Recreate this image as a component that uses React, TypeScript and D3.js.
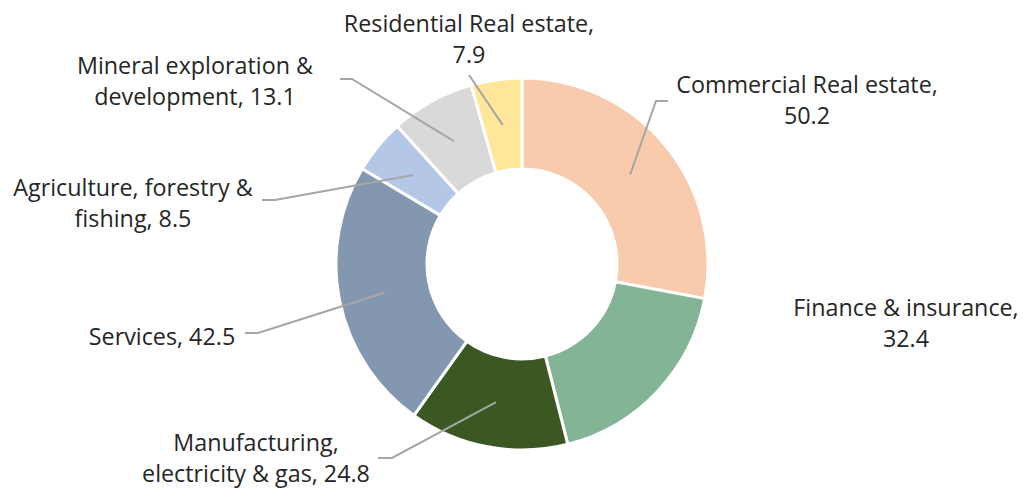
import React, { useRef, useEffect } from "react";
import * as d3 from "d3";

// sector lending values, clockwise from 12 o'clock
const sectors = [
  "Commercial Real estate",
  "Finance & insurance",
  "Manufacturing, electricity & gas",
  "Services",
  "Agriculture, forestry & fishing",
  "Mineral exploration & development",
  "Residential Real estate",
];
const values = [50.2, 32.4, 24.8, 42.5, 8.5, 13.1, 7.9];
const colors = ["#F8CBAD", "#84B496", "#3B5823", "#8497B0", "#B4C7E7", "#D9D9D9", "#FFE699"];

// label text split into lines as in the original
const labelLines = [
  ["Commercial Real estate,", "50.2"],
  ["Finance & insurance,", "32.4"],
  ["Manufacturing,", "electricity & gas, 24.8"],
  ["Services, 42.5"],
  ["Agriculture, forestry &", "fishing, 8.5"],
  ["Mineral exploration &", "development, 13.1"],
  ["Residential Real estate,", "7.9"],
];

// hand placed label layout (text centre, first baseline, leader bend points)
const labelLayout = [
  { x: 807, y: 93, leader: [[656, 101], [668, 101]] },
  { x: 906, y: 316, leader: [] },
  { x: 256, y: 451, leader: [[392, 458], [378, 458]] },
  { x: 162, y: 345, leader: [[258, 333], [245, 333]] },
  { x: 133, y: 196, leader: [[275, 200], [262, 200]] },
  { x: 195, y: 74, leader: [[352, 79], [340, 79]] },
  { x: 469, y: 32, leader: [[469, 75]] },
];

const App = () => {
  const svgRef = useRef(null);

  useEffect(() => {
    document.body.style.margin = "0";
    const svg = d3.select(svgRef.current);
    svg.selectAll("*").remove();

    const width = 1023;
    const height = 489;
    const cx = 522;
    const cy = 264;
    const outerR = 186;
    const innerR = 95;

    svg.attr("width", width).attr("height", height);

    const pie = d3.pie().sort(null).value((d) => d);
    const arcs = pie(values);
    const arc = d3.arc().innerRadius(innerR).outerRadius(outerR);

    const g = svg.append("g").attr("transform", "translate(" + cx + "," + cy + ")");

    g.selectAll("path")
      .data(arcs)
      .enter()
      .append("path")
      .attr("d", arc)
      .style("fill", (d, i) => colors[i])
      .style("stroke", "#fff")
      .style("stroke-width", 3);

    // leader lines from slice centroid to label
    arcs.forEach((a, i) => {
      const pts = labelLayout[i].leader;
      if (!pts.length) return;
      const c = arc.centroid(a);
      const line = [[cx + c[0], cy + c[1]], ...pts];
      svg
        .append("path")
        .attr("d", d3.line()(line))
        .style("fill", "none")
        .style("stroke", "#A6A6A6")
        .style("stroke-width", 2);
    });

    // labels
    labelLines.forEach((lines, i) => {
      const t = svg
        .append("text")
        .attr("text-anchor", "middle")
        .style("font-family", "'Open Sans', sans-serif")
        .style("font-size", "23.3px")
        .style("fill", "#262626");
      lines.forEach((l, j) => {
        t.append("tspan")
          .attr("x", labelLayout[i].x)
          .attr("y", labelLayout[i].y + j * 31)
          .text(l);
      });
    });
  }, []);

  return <svg ref={svgRef} style={{ display: "block" }}></svg>;
};

export default App;
